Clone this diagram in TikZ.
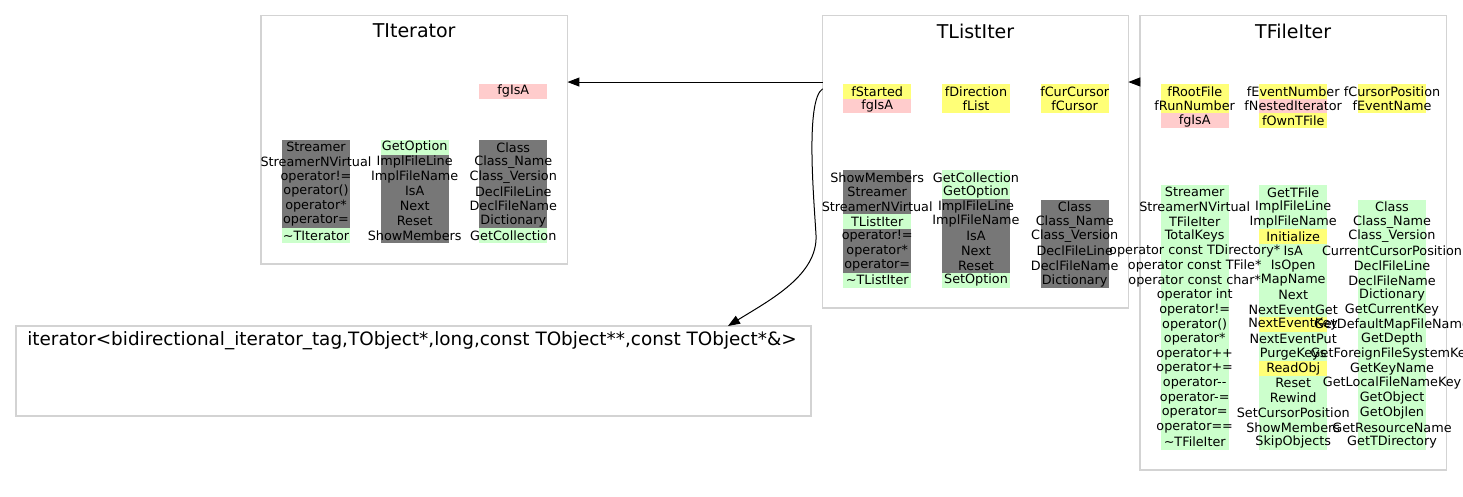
\documentclass[tikz,border=0pt]{standalone}
\usepackage{fontspec}
\setmainfont{DejaVu Sans}
\usetikzlibrary{arrows.meta}
\pgfdeclarelayer{bg}
\pgfsetlayers{bg,main}
\definecolor{gr}{HTML}{777777}
\definecolor{gn}{HTML}{CCFFCC}
\definecolor{yl}{HTML}{FFFF77}
\definecolor{pk}{HTML}{FFCCCC}
\definecolor{bx}{HTML}{D3D3D3}
\newcommand{\memcol}[4]{% name, x, first y, colour/text list
 \foreach [count=\i] \col/\txt in {#4} {
  \begin{pgfonlayer}{bg}
   \fill[\col] (#2-34,#3+\i*14.7-22.05) rectangle ++(68,14.7);
  \end{pgfonlayer}
  \node[mem] (#1-\i) at (#2,#3+\i*14.7-14.7) {\txt};
 }}

\begin{document}
\begin{tikzpicture}[x=1pt,y=-1pt,
 mem/.style={inner sep=0pt,font=\fontsize{12.8}{14}\selectfont},
 title/.style={inner sep=0pt,font=\fontsize{19}{22}\selectfont},
 classbox/.style={draw=bx,line width=1.2pt,inner sep=0pt,outer sep=0pt},
 inh/.style={-{Triangle[length=12pt,width=9pt]},line width=1pt}]
 \useasboundingbox (0,0) rectangle (1463,497);

 \node[classbox,minimum width=306.5pt,minimum height=248.3pt] (titer) at (414.2,139.9) {};
 \node[classbox,minimum width=305.6pt,minimum height=292.3pt] (tlist) at (975.5,161.9) {};
 \node[classbox,minimum width=306.5pt,minimum height=454.3pt] (tfile) at (1293.2,242.8) {};
 \node[classbox,minimum width=795pt,minimum height=90pt] (iter) at (413.5,371) {};

 \node[title] (titer-t) at (414.2,31) {TIterator};
 \node[title] (tlist-t) at (975.5,31) {TListIter};
 \node[title] (tfile-t) at (1293.2,31) {TFileIter};
 \node[title,font=\fontsize{18.4}{22}\selectfont] (iter-t) at (412,341)
  {iterator<bidirectional\_iterator\_tag,TObject*,long,const TObject**,const TObject*\&>};

 % TIterator
 \memcol{titer-d}{513.3}{91.3}{pk/fgIsA}
 \memcol{titer-a}{316}{147.3}{gr/Streamer,gr/StreamerNVirtual,gr/operator!=,gr/{operator()},
  gr/operator*,gr/operator=,gn/\textasciitilde TIterator}
 \memcol{titer-b}{414.7}{147.3}{gn/GetOption,gr/ImplFileLine,gr/ImplFileName,gr/IsA,gr/Next,
  gr/Reset,gr/ShowMembers}
 \memcol{titer-c}{513.3}{147.3}{gr/Class,gr/Class\_Name,gr/Class\_Version,gr/DeclFileLine,
  gr/DeclFileName,gr/Dictionary,gn/GetCollection}

 % TListIter
 \memcol{tlist-d}{877.2}{91.3}{yl/fStarted,pk/fgIsA}
 \memcol{tlist-e}{976}{91.3}{yl/fDirection,yl/fList}
 \memcol{tlist-f}{1074.7}{91.3}{yl/fCurCursor,yl/fCursor}
 \memcol{tlist-a}{877.2}{177.3}{gr/ShowMembers,gr/Streamer,gr/StreamerNVirtual,gn/TListIter,
  gr/operator!=,gr/operator*,gr/operator=,gn/\textasciitilde TListIter}
 \memcol{tlist-b}{976}{177.3}{gn/GetCollection,gn/GetOption,gr/ImplFileLine,gr/ImplFileName,
  gr/IsA,gr/Next,gr/Reset,gn/SetOption}
 \memcol{tlist-c}{1074.7}{207}{gr/Class,gr/Class\_Name,gr/Class\_Version,gr/DeclFileLine,
  gr/DeclFileName,gr/Dictionary}

 % TFileIter
 \memcol{tfile-d}{1194.7}{91.3}{yl/fRootFile,yl/fRunNumber,pk/fgIsA}
 \memcol{tfile-e}{1293.2}{91.3}{yl/fEventNumber,pk/fNestedIterator,yl/fOwnTFile}
 \memcol{tfile-f}{1392}{91.3}{yl/fCursorPosition,yl/fEventName}
 \memcol{tfile-a}{1194.7}{192.3}{gn/Streamer,gn/StreamerNVirtual,gn/TFileIter,gn/TotalKeys,
  gn/operator const TDirectory*,gn/operator const TFile*,gn/operator const char*,gn/operator int,
  gn/operator!=,gn/{operator()},gn/operator*,gn/operator++,gn/operator+=,gn/operator-{}-,
  gn/operator-=,gn/operator=,gn/operator==,gn/\textasciitilde TFileIter}
 \memcol{tfile-b}{1293.2}{192.3}{gn/GetTFile,gn/ImplFileLine,gn/ImplFileName,yl/Initialize,
  gn/IsA,gn/IsOpen,gn/MapName,gn/Next,gn/NextEventGet,yl/NextEventKey,gn/NextEventPut,
  gn/PurgeKeys,yl/ReadObj,gn/Reset,gn/Rewind,gn/SetCursorPosition,gn/ShowMembers,gn/SkipObjects}
 \memcol{tfile-c}{1392}{207}{gn/Class,gn/Class\_Name,gn/Class\_Version,gn/CurrentCursorPosition,
  gn/DeclFileLine,gn/DeclFileName,gn/Dictionary,gn/GetCurrentKey,gn/GetDefaultMapFileName,
  gn/GetDepth,gn/GetForeignFileSystemKey,gn/GetKeyName,gn/GetLocalFileNameKey,gn/GetObject,
  gn/GetObjlen,gn/GetResourceName,gn/GetTDirectory}

 \draw[inh] ([yshift=-66.3]tlist.north west) -- ([yshift=-66.3]titer.north east);
 \draw[inh] ([yshift=-66.3]tfile.north west) -- ([yshift=-66.3]tlist.north east);
 \draw[inh] ([yshift=-73]tlist.north west) .. controls (805,100) and (814,200) .. (816,235)
  .. controls (818,275) and (770,300) .. ([xshift=314.5]iter.north);
\end{tikzpicture}
\end{document}
